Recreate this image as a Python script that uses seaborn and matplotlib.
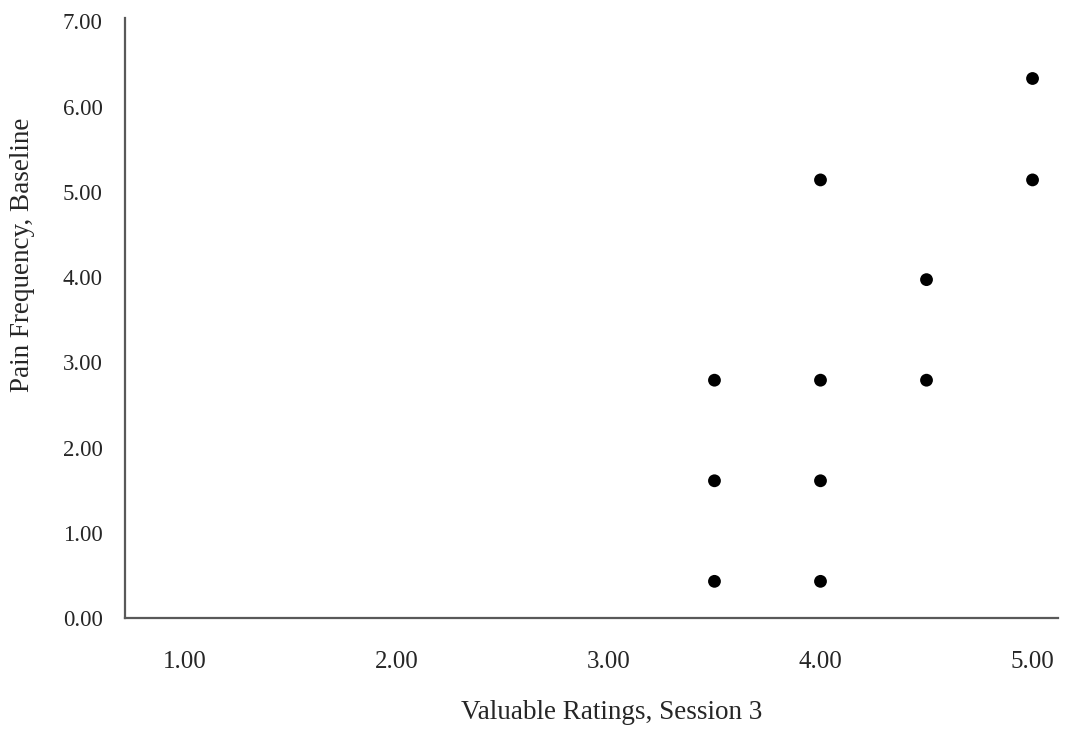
import matplotlib
matplotlib.use("Agg")
import matplotlib.pyplot as plt
import seaborn as sns
import pandas as pd

# Valores
valuable_s3 = [3.5, 3.5, 3.5, 4.0, 4.0, 4.0, 4.0, 4.5, 4.5, 5.0, 5.0]
pain_baseline = [2.79, 1.61, 0.43, 5.14, 2.79, 1.61, 0.43, 3.97, 2.79, 6.33, 5.14]
x_ticks = [1.0, 2.0, 3.0, 4.0, 5.0]
y_ticks = [0.0, 1.0, 2.0, 3.0, 4.0, 5.0, 6.0, 7.0]


def main():
    df = pd.DataFrame({"valuable": valuable_s3, "pain": pain_baseline})

    sns.set_style("white")
    plt.rcParams["font.family"] = ["Liberation Serif", "DejaVu Serif"]

    fig = plt.figure(figsize=(10.83, 7.31), dpi=100)
    ax = fig.add_axes([0.1154, 0.1546, 0.8615, 0.8208])

    sns.scatterplot(data=df, x="valuable", y="pain", ax=ax,
                    color="black", s=85, edgecolor="none")

    ax.set_xlim(0.72, 5.12)
    ax.set_ylim(0, 7.04)
    ax.set_xticks(x_ticks)
    ax.set_yticks(y_ticks)
    ax.set_xticklabels([f"{v:.2f}" for v in x_ticks])
    ax.set_yticklabels([f"{v:.2f}" for v in y_ticks])
    ax.tick_params(axis="both", length=0, colors="#262626")
    ax.tick_params(axis="x", pad=24, labelsize=18)
    ax.tick_params(axis="y", pad=16, labelsize=16.5)

    for side in ["top", "right"]:
        ax.spines[side].set_visible(False)
    for side in ["left", "bottom"]:
        ax.spines[side].set_color("#595959")
        ax.spines[side].set_linewidth(1.6)

    ax.set_xlabel("Valuable Ratings, Session 3", fontsize=19.5, color="#262626")
    ax.set_ylabel("Pain Frequency, Baseline", fontsize=19.5, color="#262626")
    ax.xaxis.set_label_coords(0.522, -0.137)
    ax.yaxis.set_label_coords(-0.096, 0.605)

    fig.savefig("out.png", dpi=100, facecolor="white")


if __name__ == "__main__":
    main()
